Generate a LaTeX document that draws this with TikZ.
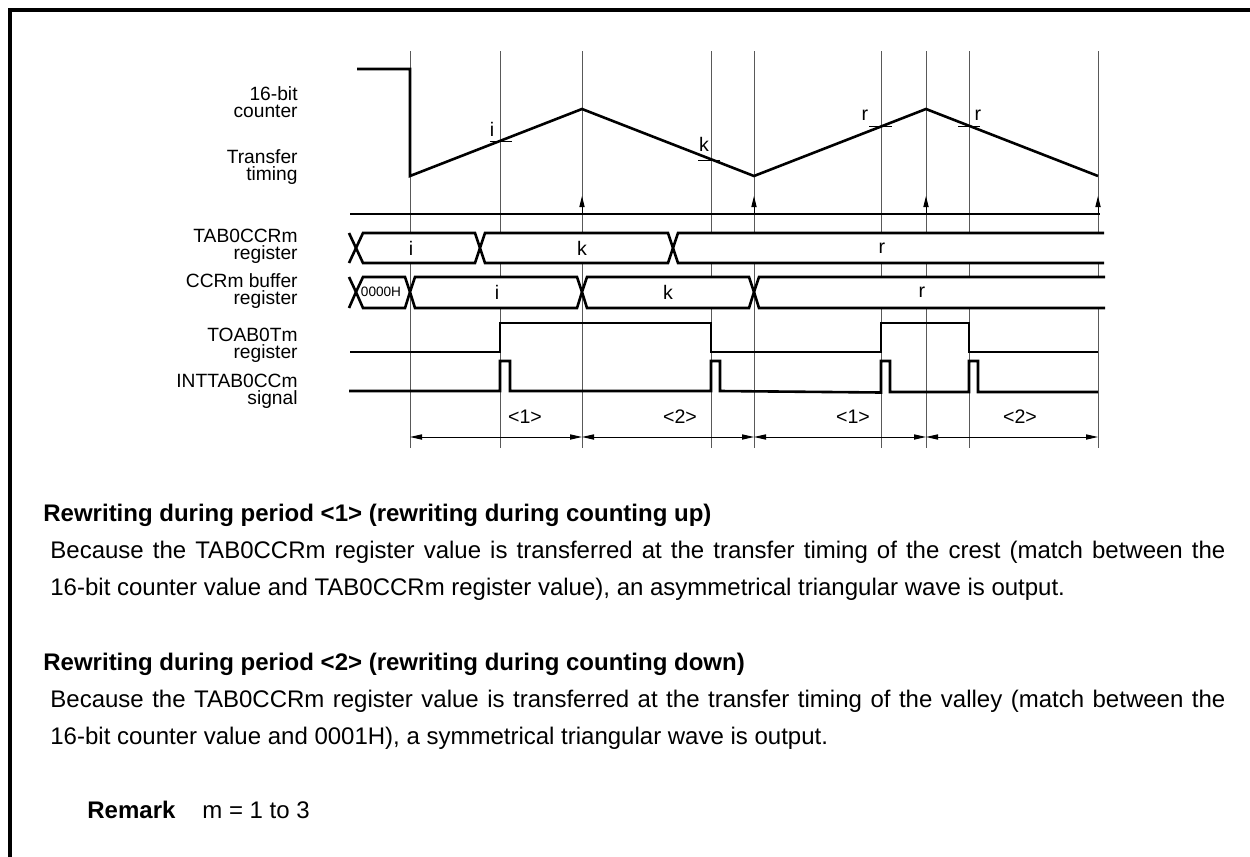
\documentclass[tikz,border=0pt]{standalone}
\usepackage{fontspec}
\setmainfont{Liberation Sans}
\usetikzlibrary{arrows.meta}
\begin{document}
\begin{tikzpicture}[x=0.5pt,y=-0.5pt,
  sig/.style={line width=1.3pt, line join=miter},
  gridln/.style={line width=0.45pt, black!65},
  thin/.style={line width=0.5pt},
  bus/.style={line width=1.3pt, fill=white, line join=miter},
  lbl/.style={font=\fontsize{9.6pt}{10pt}\selectfont, inner sep=0pt, anchor=base east},
  val/.style={font=\fontsize{9.8pt}{11pt}\selectfont, inner sep=0pt},
  small/.style={font=\fontsize{6.8pt}{8pt}\selectfont, inner sep=0pt},
  body/.style={font=\fontsize{12pt}{14pt}\selectfont, inner sep=0pt, anchor=base west},
  head/.style={font=\fontsize{12pt}{14pt}\selectfont\bfseries, inner sep=0pt, anchor=base west},
  uparrow/.style={line width=0.5pt, -{Triangle[length=5.5pt,width=2.6pt]}},
  period/.style={line width=0.5pt, {Triangle[length=6pt,width=2.6pt]}-{Triangle[length=6pt,width=2.6pt]}}
]
\useasboundingbox (0,0) rectangle (1250,857);
% frame
\draw[line width=1.6pt] (10,857) -- (10,10) -- (1250,10);

% vertical guide lines
\foreach \xx in {410,500,582,711,754,881,926,969,1098}
  \draw[gridln] (\xx,51) -- (\xx,448);

% labels left
\node[lbl] (l1a) at (298,100) {16-bit};
\node[lbl] (l1b) at (298,117) {counter};
\node[lbl] (l2a) at (298,163) {Transfer};
\node[lbl] (l2b) at (298,180) {timing};
\node[lbl] (l3a) at (298,242) {TAB0CCRm};
\node[lbl] (l3b) at (298,259) {register};
\node[lbl] (l4a) at (298,287) {CCRm buffer};
\node[lbl] (l4b) at (298,304) {register};
\node[lbl] (l5a) at (298,341) {TOAB0Tm};
\node[lbl] (l5b) at (298,358) {register};
\node[lbl] (l6a) at (298,387) {INTTAB0CCm};
\node[lbl] (l6b) at (298,404) {signal};

% counter
\draw[sig] (357,69) -- (410,69) -- (410,176) -- (582,109) -- (754,176) -- (926,109) -- (1098,176);
\draw[thin] (490,141) -- (512,141);
\draw[thin] (698,160) -- (720,160);
\draw[thin] (869,126) -- (892,126);
\draw[thin] (958,126) -- (980,126);
\node[val] (ci) at (492,129) {i};
\node[val] (ck) at (704,144) {k};
\node[val] (cr1) at (865,115) {r};
\node[val] (cr2) at (978,115) {r};

% transfer timing
\draw[sig] (350,214) -- (1100,214);
\foreach \xx in {582,754,926,1098}
  \draw[uparrow] (\xx,214) -- (\xx,196);

% TAB0CCRm bus (top 233, mid 248, bottom 263)
\draw[sig] (349,233) -- (356,248) -- (349,263);
\draw[bus] (356,248) -- (363,233) -- (475,233) -- (480,248) -- (475,263) -- (363,263) -- cycle;
\draw[bus] (480,248) -- (485,233) -- (668,233) -- (673,248) -- (668,263) -- (485,263) -- cycle;
\fill[white] (678,233) rectangle (1104,263);
\draw[sig] (1104,233) -- (678,233) -- (673,248) -- (678,263) -- (1104,263);
\node[val] (ti) at (411,248) {i};
\node[val] (tk) at (582,248) {k};
\node[val] (tr) at (882,248) {r};

% CCRm buffer bus (top 277, mid 292, bottom 308)
\draw[sig] (349,277) -- (356,292) -- (349,308);
\draw[bus] (356,292) -- (363,277) -- (405,277) -- (410,292) -- (405,308) -- (363,308) -- cycle;
\draw[bus] (410,292) -- (415,277) -- (577,277) -- (582,292) -- (577,308) -- (415,308) -- cycle;
\draw[bus] (582,292) -- (587,277) -- (749,277) -- (754,292) -- (749,308) -- (587,308) -- cycle;
\fill[white] (759,277) rectangle (1105,308);
\draw[sig] (1105,277) -- (759,277) -- (754,292) -- (759,308) -- (1105,308);
\node[small] (b0) at (381,292) {0000H};
\node[val] (bi) at (497,292) {i};
\node[val] (bk) at (668,292) {k};
\node[val] (br) at (922,292) {r};

% TOAB0Tm
\draw[sig] (350,352) -- (500,352) -- (500,323) -- (711,323) -- (711,352) -- (881,352) -- (881,323) -- (969,323) -- (969,352) -- (1098,352);

% INTTAB0CCm
\draw[sig] (349,391) -- (500,391) -- (500,361) -- (510,361) -- (510,391) -- (711,391) -- (711,361) -- (720,361) -- (720,391) -- (881,392.5) -- (881,361) -- (890,361) -- (890,392) -- (969,392) -- (969,361) -- (978,361) -- (978,392) -- (1098,392);

% periods
\coordinate (p0) at (410,437);
\coordinate (p1) at (582,437);
\coordinate (p2) at (754,437);
\coordinate (p3) at (926,437);
\coordinate (p4) at (1098,437);
\draw[period] (p0) -- (p1);
\draw[period] (p1) -- (p2);
\draw[period] (p2) -- (p3);
\draw[period] (p3) -- (p4);
\node[val] (pl1) at (525,417) {<1>};
\node[val] (pl2) at (680,417) {<2>};
\node[val] (pl3) at (853,417) {<1>};
\node[val] (pl4) at (1020,417) {<2>};

% text
\node[head] (h1) at (43,521) {Rewriting during period <1> (rewriting during counting up)};
\node[body] (p1a) at (50,558) {\makebox[587.5pt][s]{Because the TAB0CCRm register value is transferred at the transfer timing of the crest (match between the}};
\node[body] (p1b) at (50,595) {16-bit counter value and TAB0CCRm register value), an asymmetrical triangular wave is output.};
\node[head] (h2) at (43,670) {Rewriting during period <2> (rewriting during counting down)};
\node[body] (p2a) at (50,707) {\makebox[587.5pt][s]{Because the TAB0CCRm register value is transferred at the transfer timing of the valley (match between the}};
\node[body] (p2b) at (50,744) {16-bit counter value and 0001H), a symmetrical triangular wave is output.};
\node[head] (rm) at (87,818) {Remark};
\node[body] (rmt) at (202,818) {m = 1 to 3};
\end{tikzpicture}
\end{document}
